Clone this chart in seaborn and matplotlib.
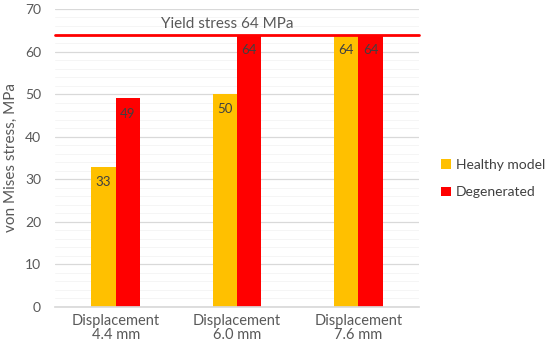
import matplotlib
matplotlib.use("Agg")
import matplotlib.pyplot as plt
import numpy as np
import pandas as pd
import seaborn as sns
from matplotlib.ticker import MultipleLocator

categories = ["Displacement\n4.4 mm", "Displacement\n6.0 mm", "Displacement\n7.6 mm"]
healthy = [33, 50, 64]
degenerated = [49, 64, 64]
series_names = ["Healthy model", "Degenerated"]
yield_stress = 64

df = pd.DataFrame({
    "category": categories * 2,
    "stress": healthy + degenerated,
    "model": [series_names[0]] * 3 + [series_names[1]] * 3,
})

sns.set_theme(style="white")
plt.rcParams["font.family"] = ["Lato", "DejaVu Sans"]

grey = "#595959"
fig = plt.figure(figsize=(5.5, 3.49), dpi=100)
ax = fig.add_axes([0.1, 0.1203, 0.662, 0.854])

sns.barplot(data=df, x="category", y="stress", hue="model", order=categories,
            hue_order=series_names, palette=["#FFC000", "#FF0000"], saturation=1,
            width=0.4, linewidth=0, ax=ax, legend=True)

ax.set_ylim(0, 70)
ax.set_xlim(-0.5, 2.5)
ax.yaxis.set_major_locator(MultipleLocator(10))
ax.yaxis.set_minor_locator(MultipleLocator(2))
ax.grid(axis="y", which="major", color="#d9d9d9", linewidth=0.9)
ax.grid(axis="y", which="minor", color="#f4f4f4", linewidth=0.6)
ax.set_axisbelow(True)
for s in ["top", "right", "left"]:
    ax.spines[s].set_visible(False)
ax.spines["bottom"].set_color("#d9d9d9")
ax.tick_params(axis="both", which="both", length=0, colors=grey, labelsize=10)
ax.tick_params(axis="y", pad=10)
ax.tick_params(axis="x", pad=5)
for t in ax.get_xticklabels():
    t.set_fontsize(10.5)
    t.set_linespacing(1.0)
ax.set_xlabel("")
ax.set_ylabel("von Mises stress, MPa", color=grey, fontsize=11, labelpad=5)

for cont in ax.containers:
    for bar in cont:
        h = bar.get_height()
        ax.text(bar.get_x() + bar.get_width() / 2, h - 2.2, f"{h:.0f}",
                ha="center", va="top", fontsize=9.5, color="#404040")

ax.axhline(yield_stress, color="#FF0000", linewidth=2, clip_on=False)
ax.text(0.92, 66.5, f"Yield stress {yield_stress} MPa", ha="center", va="center",
        fontsize=11, color=grey)

handles, labels = ax.get_legend_handles_labels()
ax.legend(handles, labels, loc="center left", bbox_to_anchor=(1.06, 0.43),
          frameon=False, fontsize=10, labelcolor="#404040", handlelength=0.7,
          handleheight=0.7, handletextpad=0.4, labelspacing=1.1,
          borderaxespad=0, borderpad=0)

plt.savefig("out.png", dpi=100)
